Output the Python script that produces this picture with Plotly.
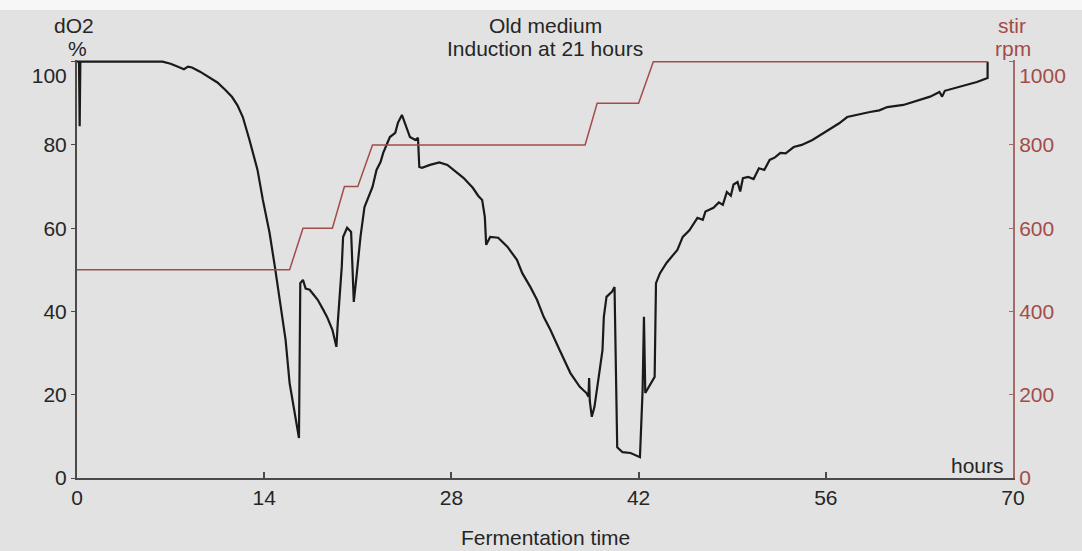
import plotly.graph_objects as go

# Dissolved oxygen trace (hours, % saturation)
do2_hours = [
    0.0, 0.15, 0.2, 0.25, 6.4, 7.0, 7.6, 8.0, 8.3, 8.6, 9.2, 9.9, 10.5, 11.1, 11.6,
    12.0, 12.4, 12.9, 13.5, 13.9, 14.4, 14.8, 15.2, 15.6, 15.9, 16.3, 16.6, 16.7,
    16.9, 17.1, 17.4, 17.7, 18.0, 18.4, 18.7, 19.1, 19.4, 19.5, 19.8, 19.9, 20.2,
    20.5, 20.6, 20.7, 20.9, 21.2, 21.5, 22.1, 22.4, 22.7, 22.9, 23.2, 23.4, 23.8,
    24.0, 24.3, 24.5, 24.9, 25.3, 25.5, 25.6, 25.8, 26.4, 27.1, 27.7, 28.4, 28.9,
    29.6, 30.0, 30.3, 30.5, 30.6, 30.9, 31.5, 32.2, 32.9, 33.3, 33.9, 34.4, 34.9,
    35.4, 36.1, 36.9, 37.6, 38.1, 38.25, 38.3, 38.35, 38.5, 38.7, 39.0, 39.3, 39.4,
    39.6, 40.0, 40.2, 40.4, 40.8, 41.4, 42.1, 42.3, 42.4, 42.5, 42.9, 43.2, 43.3,
    43.6, 44.1, 44.9, 45.3, 45.8, 46.4, 46.8, 47.0, 47.6, 48.0, 48.3, 48.6, 48.9,
    49.1, 49.4, 49.6, 49.8, 50.2, 50.6, 51.0, 51.4, 51.8, 52.2, 52.6, 53.0, 53.6,
    54.2, 55.0, 55.6, 56.5, 57.0, 57.6, 58.4, 59.3, 60.0, 60.6, 61.8, 62.5, 63.1,
    63.8, 64.5, 64.7, 64.9, 65.4, 66.0, 66.6, 67.3, 68.1, 68.1,
]
do2_pct = [
    100, 100, 84.5, 100, 100, 99.5, 98.7, 98.2, 98.8, 98.6, 97.6, 96.3, 95.0, 93.2, 91.5,
    89.5, 86.7, 81.2, 74.0, 66.8, 58.9, 50.7, 42.0, 33.2, 22.8, 15.6, 9.6, 46.8,
    47.6, 45.5, 45.2, 44.0, 42.8, 40.5, 38.7, 35.6, 31.5, 37.2, 50.7, 57.9, 60.1,
    59.1, 50.0, 42.3, 48.3, 57.9, 65.1, 69.9, 74.0, 75.9, 78.1, 80.5, 81.9, 82.9,
    85.3, 87.2, 85.3, 81.9, 81.2, 81.7, 74.7, 74.5, 75.2, 75.8, 75.2, 73.5, 72.1,
    69.7, 67.8, 66.8, 62.7, 56.0, 57.9, 57.7, 55.5, 52.4, 49.2, 45.9, 42.8, 38.7,
    35.6, 30.7, 25.2, 21.9, 20.4, 19.5, 24.0, 18.5, 14.7, 17.1, 24.3, 30.7, 38.7,
    43.5, 44.7, 45.9, 7.4, 6.2, 6.0, 5.0, 21.1, 38.7, 20.4, 22.8, 24.3, 46.8,
    49.2, 51.7, 54.8, 57.9, 59.5, 62.5, 62.0, 64.0, 64.9, 66.2, 65.6, 68.7, 67.8,
    70.5, 71.1, 68.8, 72.0, 72.3, 71.8, 74.4, 74.0, 76.4, 77.0, 78.1, 78.0, 79.5,
    80.0, 81.2, 82.4, 84.0, 85.2, 86.7, 87.3, 87.9, 88.3, 89.1, 89.6, 90.3, 90.8,
    91.6, 92.7, 91.6, 93.0, 93.4, 93.9, 94.5, 95.1, 96.1, 100,
]

# Stirrer speed set-points (hours, rpm)
stir_hours = [0, 15.9, 16.9, 19.1, 20.0, 21.0, 22.1, 38.0, 38.9, 42.0, 43.1, 68.1]
stir_rpm = [500, 500, 600, 600, 700, 700, 800, 800, 900, 900, 1000, 1000]

x_ticks = [0, 14, 28, 42, 56, 70]
do2_ticks = [0, 20, 40, 60, 80, 100]
do2_ticktext = ["0", "20", "40", "60", "80", " <br>100"]
rpm_ticks = [0, 200, 400, 600, 800, 1000]
rpm_ticktext = ["0", "200", "400", "600", "800", " <br>1000"]

FONT = "Liberation Sans, Arial, sans-serif"
BG = "#e2e2e2"
TEXT = "#262626"
AXIS = "#4a4a4a"
STIR = "#a24c4a"
STIR_AXIS = "#a56b6b"

# Page geometry (pixels)
W, H = 1082, 551
PL, PR, PT, PB = 77, 69, 60, 73
PW, PH = W - PL - PR, H - PT - PB


def px(x):
    return (x - PL) / PW


def py(y):
    return (H - PB - y) / PH


def label(text, x, y, color=TEXT, xanchor="center"):
    return dict(text=text, x=px(x), y=py(y), xref="paper", yref="paper",
                xanchor=xanchor, yanchor="middle", showarrow=False,
                font=dict(size=21, color=color))


fig = go.Figure()
fig.add_trace(go.Scatter(
    x=stir_hours, y=stir_rpm, yaxis="y2", mode="lines",
    line=dict(color=STIR, width=1.5), hoverinfo="skip", showlegend=False,
))
fig.add_trace(go.Scatter(
    x=do2_hours, y=do2_pct, mode="lines",
    line=dict(color="#1a1a1a", width=2.2), showlegend=False,
))

fig.update_layout(
    width=W, height=H,
    margin=dict(l=PL, r=PR, t=PT, b=PB),
    paper_bgcolor=BG, plot_bgcolor=BG,
    font=dict(family=FONT, size=21, color=TEXT),
    xaxis=dict(
        range=[0, 70], tickvals=x_ticks, showgrid=False, zeroline=False,
        showline=True, linecolor=AXIS, linewidth=2,
        ticks="inside", ticklen=6, tickcolor=AXIS, tickwidth=2,
        tickfont=dict(size=21, color=TEXT),
    ),
    yaxis=dict(
        range=[0, 100.4], tickvals=do2_ticks, ticktext=do2_ticktext,
        showgrid=False, zeroline=False,
        showline=True, linecolor=AXIS, linewidth=2,
        ticks="outside", ticklen=4, tickcolor=AXIS, tickwidth=1,
        tickfont=dict(size=21, color=TEXT),
    ),
    yaxis2=dict(
        range=[0, 1004], tickvals=rpm_ticks, ticktext=rpm_ticktext,
        overlaying="y", side="right", showgrid=False, zeroline=False,
        showline=True, linecolor=STIR_AXIS, linewidth=2,
        ticks="inside", ticklen=4, tickcolor=STIR_AXIS, tickwidth=1,
        tickfont=dict(size=21, color=STIR),
    ),
    shapes=[
        # pale strip along the top edge of the sheet
        dict(type="rect", xref="paper", yref="paper", x0=-0.2, x1=1.2,
             y0=py(10), y1=py(-20), fillcolor="#f7f7f7", line=dict(width=0),
             layer="below"),
    ],
    annotations=[
        label("Old medium", 545, 25),
        label("Induction at 21 hours", 545, 49),
        label("dO2", 74, 25),
        label("%", 77, 48),
        label("stir", 1012, 25, color=STIR),
        label("rpm", 1013, 49, color=STIR),
        label("hours", 1006, 465, xanchor="right"),
        label("Fermentation time", 545, 537),
    ],
)

fig.write_html("out.html")
